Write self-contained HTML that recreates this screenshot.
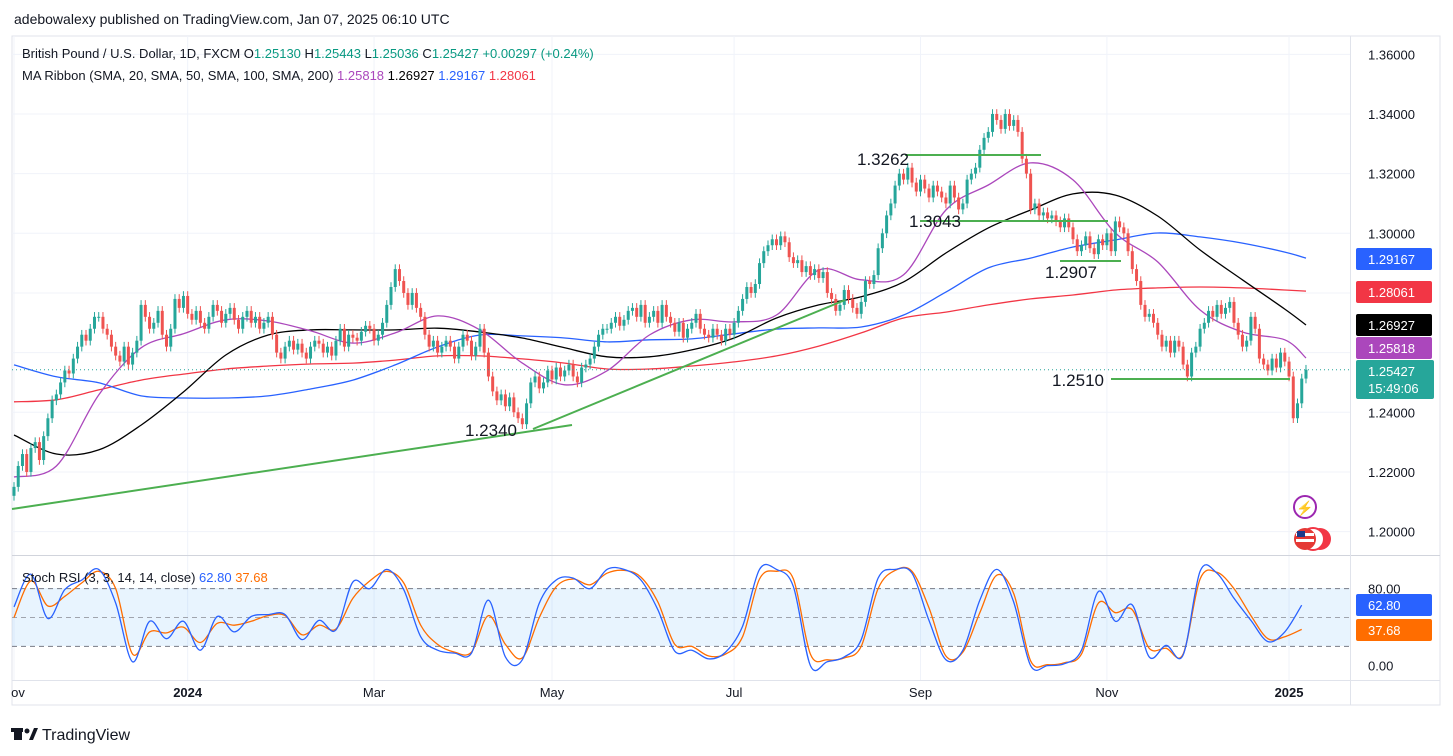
<!DOCTYPE html>
<html><head><meta charset="utf-8"><title>GBPUSD chart</title>
<style>
body{margin:0;background:#fff;width:1453px;height:756px;overflow:hidden;font-family:"Liberation Sans",sans-serif;}
svg{position:absolute;left:0;top:0;}
text{font-family:"Liberation Sans",sans-serif;}
</style></head>
<body>
<svg id="chart" width="1453" height="756" viewBox="0 0 1453 756" xmlns="http://www.w3.org/2000/svg">
<rect x="0" y="0" width="1453" height="756" fill="#ffffff"/>
<text x="14" y="24" font-size="14" fill="#131722">adebowalexy published on TradingView.com, Jan 07, 2025 06:10 UTC</text>
<rect x="12" y="36" width="1428" height="669" fill="none" stroke="#e0e3eb"/>
<g id="grid"></g>
<rect x="12" y="588" width="1338" height="58" fill="#2196f3" fill-opacity="0.1"/>
<g id="stochGuides"></g>
<g id="mas"></g>
<g id="candles"></g>
<g id="stoch"></g>
<g id="draw">
<line x1="12" y1="509" x2="572" y2="425" stroke="#4caf50" stroke-width="2"/>
<line x1="533" y1="429" x2="845" y2="300" stroke="#4caf50" stroke-width="2"/>
<line x1="905" y1="155" x2="1041" y2="155" stroke="#4caf50" stroke-width="2"/>
<line x1="920" y1="221" x2="1108" y2="221" stroke="#4caf50" stroke-width="2"/>
<line x1="1060" y1="261" x2="1121" y2="261" stroke="#4caf50" stroke-width="2"/>
<line x1="1111" y1="379" x2="1290" y2="379" stroke="#4caf50" stroke-width="2"/>
<text x="857" y="165" font-size="17" fill="#131722">1.3262</text>
<text x="909" y="227" font-size="17" fill="#131722">1.3043</text>
<text x="1045" y="278" font-size="17" fill="#131722">1.2907</text>
<text x="1052" y="386" font-size="17" fill="#131722">1.2510</text>
<text x="465" y="436" font-size="17" fill="#131722">1.2340</text>
</g>
<line x1="12" y1="555.5" x2="1440" y2="555.5" stroke="#d1d4dc"/>
<line x1="1350.5" y1="36" x2="1350.5" y2="705" stroke="#e0e3eb"/>
<line x1="12" y1="680.5" x2="1440" y2="680.5" stroke="#e0e3eb"/>
<g id="axes"></g>
<text x="22" y="58" font-size="13" fill="#131722">British Pound / U.S. Dollar, 1D, FXCM <tspan fill="#131722">O</tspan><tspan fill="#089981">1.25130</tspan> <tspan>H</tspan><tspan fill="#089981">1.25443</tspan> <tspan>L</tspan><tspan fill="#089981">1.25036</tspan> <tspan>C</tspan><tspan fill="#089981">1.25427</tspan> <tspan fill="#089981">+0.00297 (+0.24%)</tspan></text>
<text x="22" y="80" font-size="13" fill="#131722">MA Ribbon (SMA, 20, SMA, 50, SMA, 100, SMA, 200) <tspan fill="#ab47bc">1.25818</tspan> <tspan fill="#000">1.26927</tspan> <tspan fill="#2962ff">1.29167</tspan> <tspan fill="#f23645">1.28061</tspan></text>
<text x="22" y="582" font-size="13" fill="#131722">Stoch RSI (3, 3, 14, 14, close) <tspan fill="#2962ff">62.80</tspan> <tspan fill="#ff6d00">37.68</tspan></text>
<g><circle cx="1305" cy="507" r="11" fill="#fff" stroke="#9c27b0" stroke-width="2"/><text x="1305" y="513" font-size="14" fill="#9c27b0" text-anchor="middle">⚡</text></g>
<g><circle cx="1320" cy="539" r="11" fill="#f23645"/><circle cx="1313" cy="539" r="11" fill="#fff" stroke="#f23645" stroke-width="2"/><circle cx="1305" cy="539" r="11" fill="#e53935"/><rect x="1296" y="533" width="18" height="3" fill="#fff"/><rect x="1296" y="539" width="18" height="3" fill="#fff"/><rect x="1297" y="531" width="8" height="6" fill="#1e3a8a"/></g>
<g><rect x="14" y="728" width="8" height="12" fill="#131722"/><rect x="11" y="728" width="12" height="4" fill="#131722"/><circle cx="27" cy="731" r="2.5" fill="#131722"/><path d="M29 740 L34 728 L38 728 L33 740Z" fill="#131722"/><text x="42" y="740" font-size="16" fill="#131722">TradingView</text></g>
</svg>
<script>
var closes=[1.215,1.222,1.226,1.220,1.228,1.230,1.224,1.232,1.238,1.244,
1.246,1.250,1.254,1.253,1.258,1.262,1.266,1.264,1.268,1.272,
1.272,1.268,1.266,1.262,1.259,1.257,1.262,1.256,1.260,1.264,
1.276,1.272,1.268,1.270,1.274,1.266,1.262,1.268,1.278,1.275,
1.279,1.273,1.271,1.274,1.270,1.268,1.272,1.276,1.274,1.270,
1.273,1.275,1.271,1.268,1.272,1.274,1.270,1.272,1.268,1.270,
1.272,1.266,1.260,1.258,1.262,1.264,1.261,1.263,1.260,1.258,
1.262,1.264,1.263,1.260,1.262,1.259,1.264,1.268,1.262,1.266,
1.265,1.264,1.267,1.269,1.268,1.264,1.266,1.270,1.276,1.282,
1.288,1.284,1.280,1.276,1.280,1.275,1.272,1.266,1.262,1.264,
1.260,1.262,1.264,1.262,1.258,1.262,1.266,1.264,1.259,1.262,
1.268,1.260,1.252,1.247,1.244,1.246,1.242,1.245,1.240,1.238,
1.236,1.243,1.250,1.252,1.248,1.250,1.254,1.251,1.255,1.252,
1.254,1.256,1.252,1.250,1.255,1.256,1.258,1.262,1.266,1.268,
1.268,1.270,1.272,1.269,1.271,1.274,1.275,1.272,1.276,1.270,
1.272,1.274,1.270,1.276,1.272,1.270,1.267,1.270,1.265,1.268,
1.270,1.273,1.268,1.266,1.265,1.268,1.266,1.264,1.268,1.266,
1.270,1.274,1.278,1.282,1.280,1.283,1.290,1.294,1.296,1.298,
1.296,1.299,1.297,1.292,1.290,1.291,1.287,1.289,1.286,1.288,
1.285,1.287,1.280,1.278,1.274,1.276,1.281,1.278,1.275,1.273,
1.277,1.284,1.283,1.286,1.295,1.300,1.306,1.310,1.316,1.320,
1.318,1.322,1.317,1.314,1.318,1.315,1.312,1.316,1.314,1.312,
1.310,1.316,1.312,1.308,1.310,1.318,1.320,1.322,1.328,1.332,
1.334,1.340,1.338,1.335,1.340,1.336,1.338,1.334,1.325,1.320,
1.308,1.310,1.306,1.307,1.305,1.306,1.304,1.302,1.305,1.302,
1.298,1.294,1.296,1.299,1.295,1.293,1.298,1.296,1.300,1.294,
1.304,1.302,1.300,1.294,1.288,1.284,1.276,1.272,1.273,1.270,
1.266,1.262,1.264,1.260,1.264,1.262,1.256,1.252,1.260,1.262,
1.268,1.270,1.274,1.272,1.276,1.273,1.275,1.277,1.270,1.266,
1.262,1.264,1.272,1.268,1.258,1.256,1.254,1.258,1.255,1.260,
1.257,1.252,1.238,1.243,1.2513,1.25427];
var firstOpen=1.212;
var maIdx=[0,10,20,30,40,50,60,70,80,90,100,110,120,130,140,150,160,170,180,190,200,210,220,230,240,250,260,270,280,290,300,305];
var sma20=[1.2183,1.2220,1.2458,1.2616,1.2663,1.2710,1.2706,1.2673,1.2632,1.2666,1.2723,1.2676,1.2565,1.2492,1.2539,1.2659,1.2710,1.2703,1.2726,1.2877,1.2844,1.2861,1.3078,1.3162,1.3236,1.3179,1.3001,1.2904,1.2743,1.2669,1.2643,1.25818];
var sma50=[1.2324,1.2260,1.2274,1.2357,1.2468,1.2592,1.2659,1.2676,1.2676,1.2676,1.2682,1.2669,1.2649,1.2616,1.2586,1.2586,1.2609,1.2649,1.2716,1.2760,1.2787,1.2837,1.2934,1.3018,1.3078,1.3132,1.3128,1.3058,1.2944,1.2844,1.2746,1.26927];
var sma100=[1.2559,1.2519,1.2499,1.2455,1.2448,1.2448,1.2455,1.2478,1.2508,1.2559,1.2619,1.2659,1.2656,1.2649,1.2636,1.2643,1.2646,1.2663,1.2679,1.2683,1.2686,1.2726,1.2803,1.2884,1.2917,1.2954,1.2978,1.3001,1.2988,1.2967,1.2937,1.29167];
var sma200=[1.2435,1.2442,1.2475,1.2508,1.2528,1.2545,1.2555,1.2562,1.2565,1.2575,1.2589,1.2589,1.2579,1.2565,1.2545,1.2545,1.2555,1.2569,1.2589,1.2622,1.2666,1.2716,1.2736,1.2760,1.2780,1.2793,1.2810,1.2817,1.2820,1.2817,1.2810,1.28061];
var stochK=[61,95,49,79,89,100,65,4,46,28,46,16,51,35,51,53,53,27,47,37,87,80,100,79,30,16,13,13,68,9,6,65,89,91,80,100,100,89,58,15,16,7,14,41,100,100,82,0,4,9,27,91,100,96,47,6,16,68,100,66,0,0,2,16,77,46,63,9,21,11,98,96,70,47,25,35,62.8];
var stochD=[50,88,62,72,86,98,80,12,35,34,40,24,44,42,46,52,52,32,42,38,70,88,98,86,42,22,14,14,52,22,8,50,82,90,84,96,99,92,66,22,20,10,12,30,90,98,90,12,6,8,20,80,99,98,60,10,14,55,94,75,5,1,3,12,65,55,58,18,18,12,90,97,80,52,28,30,37.68];
var priceTicks=[1.36,1.34,1.32,1.30,1.28,1.26,1.24,1.22,1.20];
var priceTickLabels=["1.36000","1.34000","1.32000","1.30000","1.28000","1.26000","1.24000","1.22000","1.20000"];
var timeLabels=["ov","2024","Mar","May","Jul","Sep","Nov","2025"];
var timeIdx=[0,41,85,127,170,214,258,301];
var badgeVals=[1.29167,1.28061,1.26927,1.25818];
var badgeLabels=["1.29167","1.28061","1.26927","1.25818"];
var badgeColors=["#2962ff","#f23645","#000000","#ab47bc"];
var badgeY=[259,292,325,348];

var NS="http://www.w3.org/2000/svg";
function X(i){return 14+i*4.236;}
function Y(p){return 233.3+(1.30-p)*2983;}
function SY(v){return 665.6-v*0.962;}
function mk(t,a,parent){var e=document.createElementNS(NS,t);for(var k in a)e.setAttribute(k,a[k]);parent.appendChild(e);return e;}
function smooth(pts){
  var d='M'+pts[0][0].toFixed(1)+' '+pts[0][1].toFixed(1);
  for(var i=0;i<pts.length-1;i++){
    var p0=pts[i-1]||pts[i],p1=pts[i],p2=pts[i+1],p3=pts[i+2]||p2;
    var c1x=p1[0]+(p2[0]-p0[0])/6,c1y=p1[1]+(p2[1]-p0[1])/6;
    var c2x=p2[0]-(p3[0]-p1[0])/6,c2y=p2[1]-(p3[1]-p1[1])/6;
    d+='C'+c1x.toFixed(1)+' '+c1y.toFixed(1)+' '+c2x.toFixed(1)+' '+c2y.toFixed(1)+' '+p2[0].toFixed(1)+' '+p2[1].toFixed(1);
  }
  return d;
}

var grid=document.getElementById('grid');
var axes=document.getElementById('axes');
priceTicks.forEach(function(p,i){
  var l=mk('line',{x1:12,x2:1350,y1:Y(p),y2:Y(p),stroke:'#f0f3fa'},grid);
  
  
  var t=mk('text',{x:1368,y:Y(p)+5,'font-size':13,fill:'#131722'},axes);
  t.textContent=priceTickLabels[i];
  
  
});
timeIdx.forEach(function(ix,i){
  var x=X(ix);
  var l=mk('line',{x1:x,x2:x,y1:36,y2:680,stroke:'#f0f3fa'},grid);
  
  
  var t=mk('text',{x:(i==0?18:x),y:697,'font-size':13,fill:'#131722','text-anchor':'middle','font-weight':(timeLabels[i]=='2024'||timeLabels[i]=='2025')?'bold':'normal'},axes);
  t.textContent=timeLabels[i];
  
  
});
var sg=document.getElementById('stochGuides');
[80,50,20].forEach(function(v){
  var l=mk('line',{x1:12,x2:1350,y1:SY(v),y2:SY(v),stroke:v==50?'#a0a4ad':'#787b86','stroke-dasharray':'5,4'},sg);
  
  
});
[[80,'80.00'],[0,'0.00']].forEach(function(a){
  var t=mk('text',{x:1368,y:SY(a[0])+5,'font-size':13,fill:'#131722'},axes);
  t.textContent=a[1];
  
  
});
var mas=document.getElementById('mas');
[[sma200,'#f23645','sma200-line'],[sma100,'#2962ff','sma100-line'],[sma50,'#000000','sma50-line'],[sma20,'#ab47bc','sma20-line']].forEach(function(m){
  var pts=m[0].map(function(v,i){return [X(maIdx[i]),Y(v)];});
  var p=mk('path',{d:smooth(pts),fill:'none',stroke:m[1],'stroke-width':1.3},mas);
  
  
});
var cg=document.getElementById('candles');
closes.forEach(function(c,i){
  var o=i?closes[i-1]:firstOpen;
  var up=c>=o, col=up?'#26a69a':'#ef5350';
  var hi=Math.max(o,c)+0.0016, lo=Math.min(o,c)-0.0016;
  var x=X(i);
  var w=mk('line',{x1:x,x2:x,y1:Y(hi),y2:Y(lo),stroke:col,'stroke-width':1},cg);
  
  
  var top=Y(Math.max(o,c)),h=Math.max(1,Math.abs(Y(o)-Y(c)));
  var b=mk('rect',{x:x-1.5,y:top,width:3,height:h,fill:col},cg);
  
  
});
var lastY=Y(closes[closes.length-1]);
var dl=mk('line',{x1:12,x2:1350,y1:lastY,y2:lastY,stroke:'#26a69a','stroke-dasharray':'1,3'},cg);


var sgr=document.getElementById('stoch');
[[stochD,'#ff6d00','stoch-d-line'],[stochK,'#2962ff','stoch-k-line']].forEach(function(s){
  var pts=s[0].map(function(v,k){return [X(Math.min(k*4,305)),SY(v)];});
  var p=mk('path',{d:smooth(pts),fill:'none',stroke:s[1],'stroke-width':1.3},sgr);
  
  
});
badgeVals.forEach(function(v,i){
  var r=mk('rect',{x:1356,y:badgeY[i]-11,width:76,height:22,rx:2,fill:badgeColors[i]},axes);
  
  
  var t=mk('text',{x:1368,y:badgeY[i]+5,'font-size':13,fill:'#fff'},axes);
  t.textContent=badgeLabels[i];
  
  
});
var lb=mk('rect',{x:1356,y:360,width:78,height:39,rx:2,fill:'#26a69a'},axes);


var lt=mk('text',{x:1368,y:376,'font-size':13,fill:'#fff'},axes);
lt.textContent='1.25427';


var ct=mk('text',{x:1368,y:393,'font-size':13,fill:'#fff'},axes);
ct.textContent='15:49:06';


[[stochK,'#2962ff','62.80',605],[stochD,'#ff6d00','37.68',630]].forEach(function(s){
  var r=mk('rect',{x:1356,y:s[3]-11,width:76,height:22,rx:2,fill:s[1]},axes);
  
  
  var t=mk('text',{x:1368,y:s[3]+5,'font-size':13,fill:'#fff'},axes);
  t.textContent=s[2];
  
  
});
</script>
</body></html>
